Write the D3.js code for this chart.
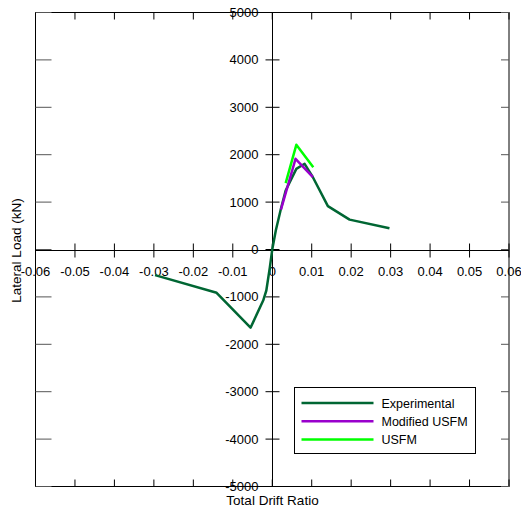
<!DOCTYPE html>
<html>
<head>
<meta charset="utf-8">
<script src="https://cdn.jsdelivr.net/npm/d3@7"></script>
<style>
body { margin: 0; background: #fff; }
text { font-family: "Liberation Sans", Arial, sans-serif; font-size: 13px; fill: #000; }
</style>
</head>
<body>
<svg id="chart" width="521" height="513"></svg>
<script>
// drift ratio / lateral load (kN)
var expDrift = [-0.0297, -0.0141, -0.0055, -0.0023, -0.0015, -0.0006, 0, 0.0009, 0.0022, 0.0034, 0.0061, 0.0082, 0.0103, 0.0141, 0.0196, 0.0297];
var expLoad  = [-540, -914, -1650, -1076, -865, -373, 0, 400, 860, 1245, 1700, 1808, 1525, 914, 630, 449];
var modDrift = [0.0022, 0.0059, 0.0103];
var modLoad  = [840, 1913, 1525];
var usfmDrift = [0.0034, 0.0061, 0.0104];
var usfmLoad  = [1400, 2209, 1737];

var xTicks = [-0.06, -0.05, -0.04, -0.03, -0.02, -0.01, 0, 0.01, 0.02, 0.03, 0.04, 0.05, 0.06];
var yTicks = [-5000, -4000, -3000, -2000, -1000, 0, 1000, 2000, 3000, 4000, 5000];

var seriesNames = ["Experimental", "Modified USFM", "USFM"];
var seriesColors = ["#006633", "#9900cc", "#00ff00"];

var svg = d3.select("#chart");
var pLeft = 35.5, pRight = 509, pTop = 12.5, pBottom = 486.5;

var x = d3.scaleLinear().domain([-0.06, 0.06]).range([pLeft, pRight]);
var y = d3.scaleLinear().domain([-5000, 5000]).range([pBottom, pTop]);

var g = svg.append("g");

// frame
g.append("rect")
    .attr("x", pLeft).attr("y", pTop)
    .attr("width", pRight - pLeft).attr("height", pBottom - pTop)
    .style("fill", "none").style("stroke", "#000");

// frame ticks
g.selectAll(".ttop").data(xTicks).enter().append("line")
    .attr("x1", d => x(d)).attr("x2", d => x(d))
    .attr("y1", pTop).attr("y2", pTop + 7)
    .style("stroke", "#000");
g.selectAll(".tbot").data(xTicks).enter().append("line")
    .attr("x1", d => x(d)).attr("x2", d => x(d))
    .attr("y1", pBottom).attr("y2", pBottom - 7)
    .style("stroke", "#000");
g.selectAll(".tleft").data(yTicks).enter().append("line")
    .attr("x1", pLeft).attr("x2", pLeft + 16)
    .attr("y1", d => y(d)).attr("y2", d => y(d))
    .style("stroke", "#555");
g.selectAll(".tright").data(yTicks).enter().append("line")
    .attr("x1", pRight).attr("x2", pRight - 8)
    .attr("y1", d => y(d)).attr("y2", d => y(d))
    .style("stroke", "#555");

// center axes
var x0 = Math.round(x(0)) + 0.5, y0 = Math.round(y(0)) + 0.5;
g.append("line").attr("x1", pLeft).attr("x2", pRight).attr("y1", y0).attr("y2", y0).style("stroke", "#000");
g.append("line").attr("x1", x0).attr("x2", x0).attr("y1", pTop).attr("y2", pBottom).style("stroke", "#000");

g.selectAll(".cx").data(xTicks).enter().append("line")
    .attr("x1", d => x(d)).attr("x2", d => x(d))
    .attr("y1", y0 - 7).attr("y2", y0 + 7)
    .style("stroke", "#000");
g.selectAll(".cy").data(yTicks).enter().append("line")
    .attr("x1", x0 - 7).attr("x2", x0 + 7)
    .attr("y1", d => y(d)).attr("y2", d => y(d))
    .style("stroke", "#000");

// tick labels
g.selectAll(".lx").data(xTicks).enter().append("text")
    .attr("x", d => x(d)).attr("y", y0 + 25)
    .attr("text-anchor", "middle")
    .text(d => String(+d.toFixed(2)));
g.selectAll(".ly").data(yTicks).enter().append("text")
    .attr("x", x0 - 14).attr("y", d => y(d) + 4.5)
    .attr("text-anchor", "end")
    .text(d => String(d));

// axis titles
svg.append("text").attr("x", x0).attr("y", 505)
    .attr("text-anchor", "middle").style("font-size", "13.5px").text("Total Drift Ratio");
svg.append("text")
    .attr("transform", "translate(21," + y0 + ") rotate(-90)")
    .attr("text-anchor", "middle").style("font-size", "13.5px").text("Lateral Load (kN)");

// curves
var line = d3.line().x(d => x(d[0])).y(d => y(d[1]));
var series = [
    d3.zip(expDrift, expLoad),
    d3.zip(modDrift, modLoad),
    d3.zip(usfmDrift, usfmLoad)
];
series.forEach(function(s, i) {
    g.append("path")
        .attr("d", line(s))
        .style("fill", "none")
        .style("stroke", seriesColors[i])
        .style("stroke-width", 2.5)
        .style("stroke-linejoin", "round");
});

// legend
var lg = svg.append("g").attr("transform", "translate(294.5,387.5)");
lg.append("rect").attr("width", 181).attr("height", 66)
    .style("fill", "#fff").style("stroke", "#000");
seriesNames.forEach(function(name, i) {
    var ly = 15.5 + i * 18.2;
    lg.append("line").attr("x1", 7).attr("x2", 79).attr("y1", ly).attr("y2", ly)
        .style("stroke", seriesColors[i]).style("stroke-width", 2.5);
    lg.append("text").attr("x", 87).attr("y", ly + 4.5).style("font-size", "12.5px").text(name);
});
</script>
</body>
</html>
